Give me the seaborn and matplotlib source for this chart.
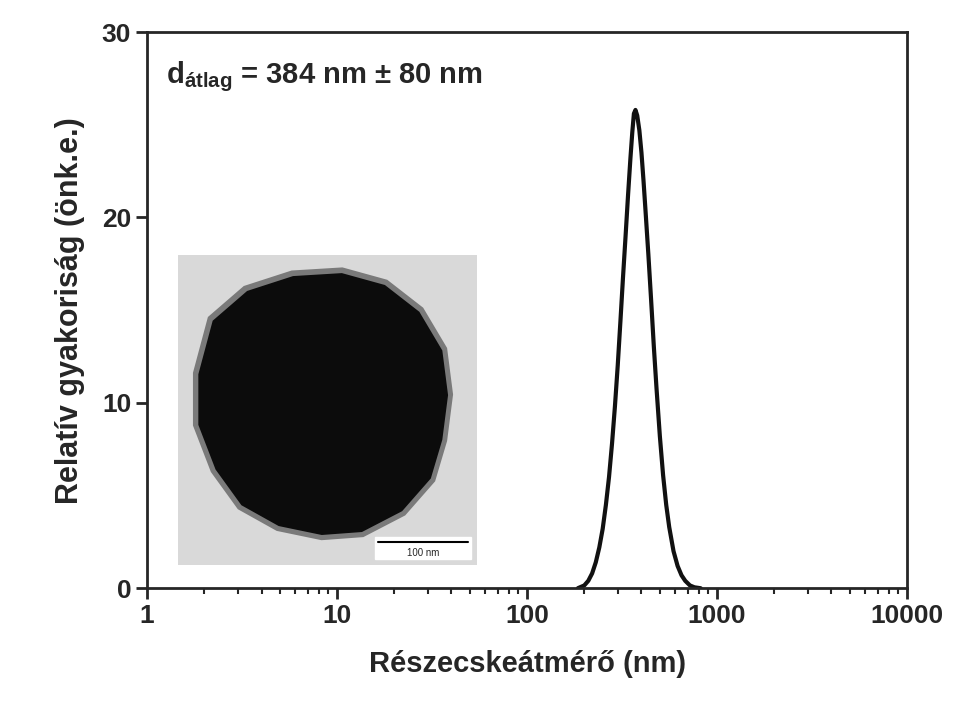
import matplotlib
matplotlib.use("Agg")
import matplotlib.pyplot as plt
import seaborn as sns
import pandas as pd
from matplotlib.patches import Polygon, Rectangle

# size distribution
diameter_nm = [185, 200, 210, 220, 230, 240, 250, 260, 270, 280, 290, 300, 310, 320, 330, 340, 350, 358,
               365, 372, 380, 390, 400, 410, 420, 435, 450, 465, 480, 500, 520, 540, 560, 590, 620, 650,
               680, 720, 760, 820]
rel_freq = [0.0, 0.15, 0.4, 0.8, 1.4, 2.2, 3.2, 4.5, 6.0, 7.8, 9.8, 12.0, 14.4, 16.8, 19.0, 21.2, 23.2, 24.6,
            25.6, 25.8, 25.5, 24.7, 23.5, 22.0, 20.4, 18.0, 15.5, 13.0, 10.8, 8.2, 6.1, 4.5, 3.3, 2.0, 1.2, 0.7,
            0.4, 0.15, 0.05, 0.0]
x_ticks = [1, 10, 100, 1000, 10000]
x_labels = ["1", "10", "100", "1000", "10000"]
y_ticks = [0, 10, 20, 30]

sns.set_style("ticks")
plt.rcParams["font.family"] = ["Liberation Sans", "DejaVu Sans"]
plt.rcParams["mathtext.fontset"] = "custom"
plt.rcParams["mathtext.rm"] = "Liberation Sans:bold"
plt.rcParams["mathtext.bf"] = "Liberation Sans:bold"

df = pd.DataFrame({"d": diameter_nm, "f": rel_freq})

fig = plt.figure(figsize=(9.68, 7.13), dpi=100)
ax = fig.add_axes([0.152, 0.175, 0.785, 0.78])
sns.lineplot(data=df, x="d", y="f", ax=ax, color="#111111", linewidth=3)
ax.set_xscale("log")
ax.set_xlim(1, 10000)
ax.set_ylim(0, 30)
ax.set_xticks(x_ticks)
ax.set_xticklabels(x_labels)
ax.set_yticks(y_ticks)
for s in ax.spines.values():
    s.set_linewidth(2)
    s.set_visible(True)
ax.tick_params(which="major", length=8, width=2, labelsize=19)
ax.tick_params(which="minor", length=4, width=1.5)
for lab in ax.get_xticklabels() + ax.get_yticklabels():
    lab.set_fontweight("bold")
ax.set_xlabel("Részecskeátmérő (nm)", fontsize=21, fontweight="bold", labelpad=16)
ax.set_ylabel("Relatív gyakoriság (önk.e.)", fontsize=22, fontweight="bold", labelpad=12)
ax.text(0.025, 0.92, r"d$_{\mathrm{átlag}}$ = 384 nm ± 80 nm", transform=ax.transAxes,
        fontsize=21, fontweight="bold", va="center")

# inset TEM-like picture
ins = fig.add_axes([178 / 968, 1 - 565 / 713, 299 / 968, 310 / 713])
ins.set_xlim(0, 1)
ins.set_ylim(0, 1)
ins.axis("off")
ins.add_patch(Rectangle((0, 0), 1, 1, color="#d9d9d9"))
blob = [(0.10, 0.80), (0.22, 0.90), (0.38, 0.95), (0.55, 0.96), (0.70, 0.92), (0.82, 0.83),
        (0.90, 0.70), (0.92, 0.55), (0.90, 0.40), (0.86, 0.27), (0.76, 0.16), (0.62, 0.09),
        (0.48, 0.08), (0.33, 0.11), (0.20, 0.18), (0.11, 0.30), (0.05, 0.45), (0.05, 0.62)]
ins.add_patch(Polygon(blob, closed=True, facecolor="#7a7a7a", edgecolor="none"))
inner = [(x * 0.96 + 0.02, y * 0.96 + 0.02) for x, y in blob]
ins.add_patch(Polygon(inner, closed=True, facecolor="#0c0c0c", edgecolor="none"))
ins.add_patch(Rectangle((0.66, 0.02), 0.32, 0.07, color="white"))
ins.plot([0.67, 0.97], [0.075, 0.075], color="black", linewidth=1.5)
ins.text(0.82, 0.038, "100 nm", fontsize=7, ha="center", va="center")

fig.savefig("out.png", dpi=100)
